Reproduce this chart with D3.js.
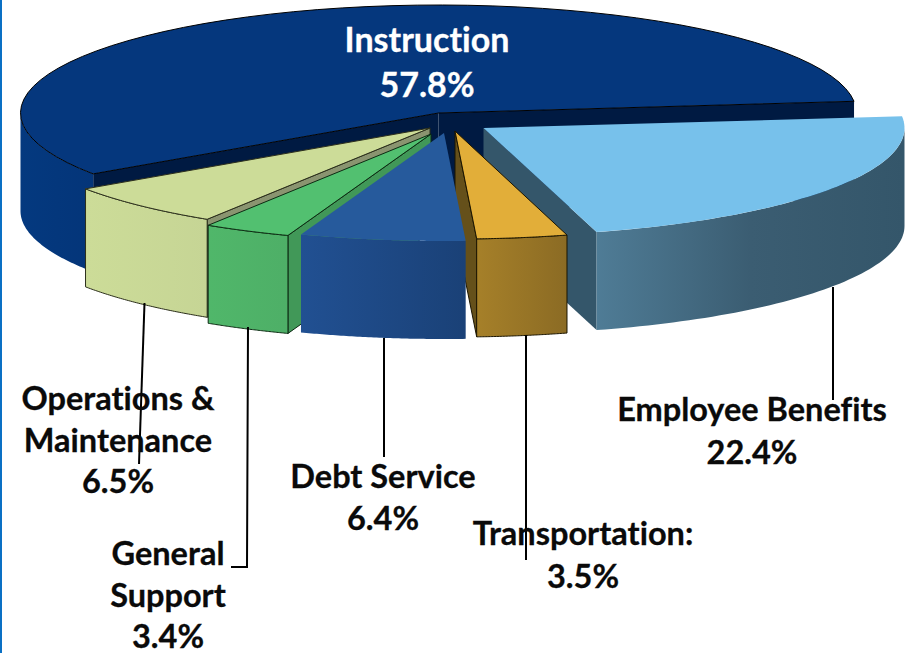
<!DOCTYPE html>
<html><head><meta charset="utf-8">
<script src="https://cdn.jsdelivr.net/npm/d3@7/dist/d3.min.js"></script>
<style>html,body{margin:0;padding:0;background:#fff}svg{display:block}text{font-family:Lato,sans-serif;font-weight:700;font-variant-ligatures:none}</style>
</head><body><svg id="c" width="910" height="653"></svg>
<script>
const categories = ["Instruction","Employee Benefits","Transportation:","Debt Service","General Support","Operations & Maintenance"];
const values = [57.8,22.4,3.5,6.4,3.4,6.5];
const valueLabels = ["57.8%","22.4%","3.5%","6.4%","3.4%","6.5%"];
const labelLines = [["Instruction"],["Employee Benefits"],["Transportation:"],["Debt Service"],["General","Support"],["Operations &","Maintenance"]];

// layout
const W=910,H=653,RY=108,DEPTH=98,START=235.7;
const radiusX=[418,421,417,417,417,417];
const apexX=[438.5,483.5,455,444,431,430], apexY=[113,128,131,133,134,128];
const topFill=["#05377d","#77c1eb","#e2ae39","#265a9c","#52c070","#ccdc98"];
const wallFill=["#001a42","#34566a","#65501a",null,"#419858","#8a9470"];
const frontFill=[["#04397f","#043579"],["#4f7c96","#3b5d72","#34566a"],["#a68029","#8b6b24"],["#215092","#1a4177"],["#50b76a","#4eaf67"],["#ccdc98","#c6d595"]];
const strokeC=["#000","none","#1a1400","none","#0c2a12","#2c2f1c"];
const drawOrder=[0,5,4,1,2,3];
const labelX=[427,752,583,383,168,118], labelY=[52,421,545,488,565,410];
const leading=[45,43,43,42,41.5,41.5];

const svg=d3.select("#c");
const defs=svg.append("defs");
const rad=d=>d*Math.PI/180;
const pie=d3.pie().sort(null).startAngle(rad(START)).endAngle(rad(START+360));
const arcs=pie(values);
const line=d3.line();
const pt=(i,t,dy=0)=>[apexX[i]+radiusX[i]*Math.sin(t),apexY[i]-RY*Math.cos(t)+dy];
const apex=(i,dy=0)=>[apexX[i],apexY[i]+dy];
const samples=(a,b)=>d3.range(0,61).map(k=>a+(b-a)*k/60);

svg.append("rect").attr("x",0).attr("y",0).attr("width",2).attr("height",H).attr("fill","#0a70c4");

arcs.forEach((a,i)=>{
  const grad=defs.append("linearGradient").attr("id","f"+i);
  frontFill[i].forEach((c,k,arr)=>grad.append("stop").attr("offset",k/(arr.length-1)).attr("stop-color",c));
});
drawOrder.forEach(i=>{
  const a=arcs[i], s=a.startAngle, e=a.endAngle;
  const g=svg.append("g");
  const st=strokeC[i], sw=st==="none"?0:1;
  const face=t=>g.append("path").attr("d",line([apex(i),pt(i,t),pt(i,t,DEPTH),apex(i,DEPTH)])+"Z").attr("fill",wallFill[i]).attr("stroke",i===0?"none":st).attr("stroke-width",sw);
  // cut faces that turn toward the viewer
  if(Math.sin(e)>0&&wallFill[i]) face(e);
  if(Math.sin(s)<0&&wallFill[i]) face(s);
  // rim wall: lower half of the ellipse only
  for(let k=0;k<2;k++){
    const o=k*2*Math.PI, x0=Math.max(s,rad(90)+o), x1=Math.min(e,rad(270)+o);
    if(x1<=x0) continue;
    const ts=samples(x0,x1);
    const p=[...ts.map(t=>pt(i,t)),...ts.slice().reverse().map(t=>pt(i,t,DEPTH))];
    g.append("path").attr("d",line(p)+"Z").attr("fill",`url(#f${i})`).attr("stroke",i===0?"none":st).attr("stroke-width",sw);
  }
  const ts=samples(s,e);
  g.append("path").attr("d",line([apex(i),...ts.map(t=>pt(i,t))])+"Z").attr("fill",topFill[i]).attr("stroke",st).attr("stroke-width",sw);
});

// leader lines
const leaders=[
 [[833,287],[833,400]],
 [[526,335],[526,560]],
 [[384,338],[384,457]],
 [[248,327],[247,567],[231,567]],
 [[144.5,303],[139,464]]
];
svg.append("g").selectAll("path").data(leaders).join("path")
 .attr("d",d=>line(d)).attr("fill","none").attr("stroke","#000").attr("stroke-width",2);

// labels
categories.forEach((c,i)=>{
  const col=i===0?"#fff":"#0a0a0a";
  const t=svg.append("text").attr("text-anchor","middle").attr("fill",col).attr("stroke",col).attr("stroke-width",0.3).attr("font-size",i===0?34:32.5);
  labelLines[i].forEach((l,k)=>t.append("tspan").attr("x",labelX[i]).attr("y",labelY[i]+k*leading[i]).text(l));
  t.append("tspan").attr("x",labelX[i]).attr("y",labelY[i]+labelLines[i].length*leading[i]).text(valueLabels[i]);
});
</script></body></html>
